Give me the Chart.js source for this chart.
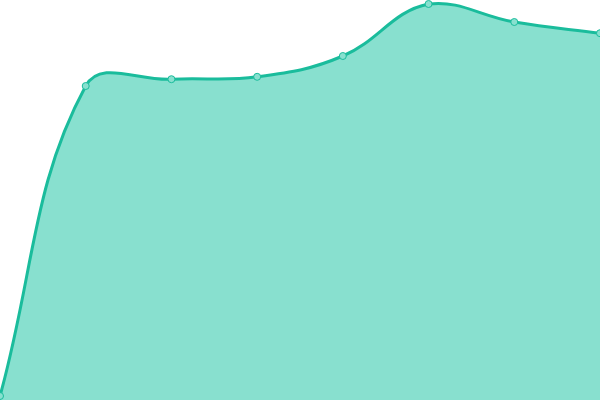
<!DOCTYPE html>
<html>
<head>
<meta charset="utf-8">
<script src="https://cdn.jsdelivr.net/npm/chart.js@4"></script>
<style>
html,body{margin:0;padding:0;background:#fff;}
#wrap{width:600px;height:400px;}
</style>
</head>
<body>
<div id="wrap"><canvas id="c"></canvas></div>
<script>
const labels = ["1","2","3","4","5","6","7","8"];
const values = [1, 78.5, 80.2, 80.8, 86, 99, 94.5, 91.7];

new Chart(document.getElementById('c'), {
  type: 'line',
  data: {
    labels: labels,
    datasets: [{
      data: values,
      fill: true,
      backgroundColor: '#88e0cf',
      borderColor: '#1abc9c',
      borderWidth: 3,
      tension: 0.4,
      pointRadius: 3.5,
      pointBorderWidth: 1,
      pointBackgroundColor: '#88e0cf',
      pointBorderColor: '#1abc9c',
      clip: false
    }]
  },
  options: {
    responsive: true,
    maintainAspectRatio: false,
    animation: false,
    layout: { padding: 0, autoPadding: false },
    plugins: { legend: { display: false }, tooltip: { enabled: false } },
    scales: {
      x: { display: false, offset: false },
      y: { display: false, min: 0, max: 100 }
    }
  }
});
</script>
</body>
</html>
